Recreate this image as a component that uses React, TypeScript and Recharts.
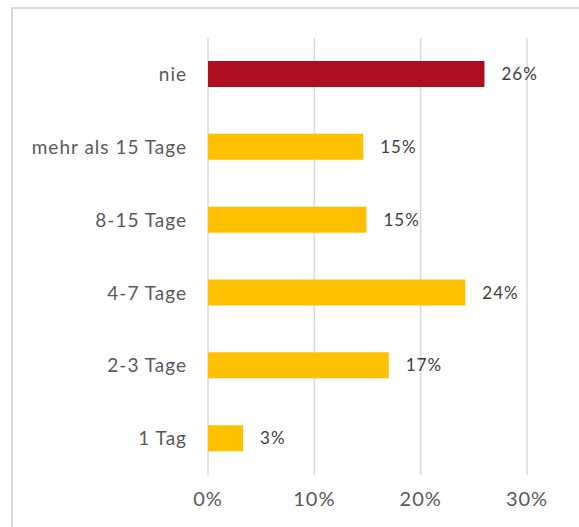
import { BarChart, Bar, XAxis, YAxis, CartesianGrid, Cell, LabelList } from "recharts";

const categories = ["nie", "mehr als 15 Tage", "8-15 Tage", "4-7 Tage", "2-3 Tage", "1 Tag"];
const values = [0.26, 0.146, 0.149, 0.242, 0.17, 0.033];
const colors = ["#AE0F1E", "#FFC000", "#FFC000", "#FFC000", "#FFC000", "#FFC000"];
const xTicks = [0, 0.1, 0.2, 0.3];

const data = categories.map((name, i) => ({ name, value: values[i], color: colors[i] }));

const pct = (v: number) => `${Math.round(v * 100)}%`;
const font = "Lato, sans-serif";

export default function App() {
  if (typeof document !== "undefined") {
    document.body.style.overflow = "hidden";
  }
  return (
    <div style={{ position: "fixed", left: 0, top: 0, width: 579, height: 527, background: "#fff", overflow: "hidden" }}>
      <div
        style={{
          position: "absolute",
          left: 11,
          top: 7,
          width: 620,
          height: 620,
          border: "2px solid #d9d9d9",
        }}
      />
      <div style={{ position: "absolute", left: 0, top: 0 }}>
        <BarChart
          width={579}
          height={527}
          data={data}
          layout="vertical"
          margin={{ top: 38, right: 52, bottom: 12, left: 8 }}
        >
          <CartesianGrid horizontal={false} stroke="#d9d9d9" strokeWidth={1.5} />
          <XAxis
            type="number"
            domain={[0, 0.3]}
            ticks={xTicks}
            tickFormatter={pct}
            axisLine={false}
            tickLine={false}
            height={40}
            tickMargin={11}
            tick={{ fill: "#595959", fontSize: 20, fontFamily: font, letterSpacing: 1 }}
          />
          <YAxis
            type="category"
            dataKey="name"
            width={200}
            axisLine={false}
            tickLine={false}
            tickMargin={15}
            tick={{ fill: "#595959", fontSize: 19, fontFamily: font, letterSpacing: 1 }}
          />
          <Bar dataKey="value" barSize={26} isAnimationActive={false}>
            {data.map((d, i) => (
              <Cell key={i} fill={d.color} />
            ))}
            <LabelList
              dataKey="value"
              position="right"
              offset={17}
              formatter={(v: any) => pct(Number(v))}
              style={{ fill: "#404040", fontSize: 17, fontFamily: font, letterSpacing: 1 }}
            />
          </Bar>
        </BarChart>
      </div>
    </div>
  );
}
